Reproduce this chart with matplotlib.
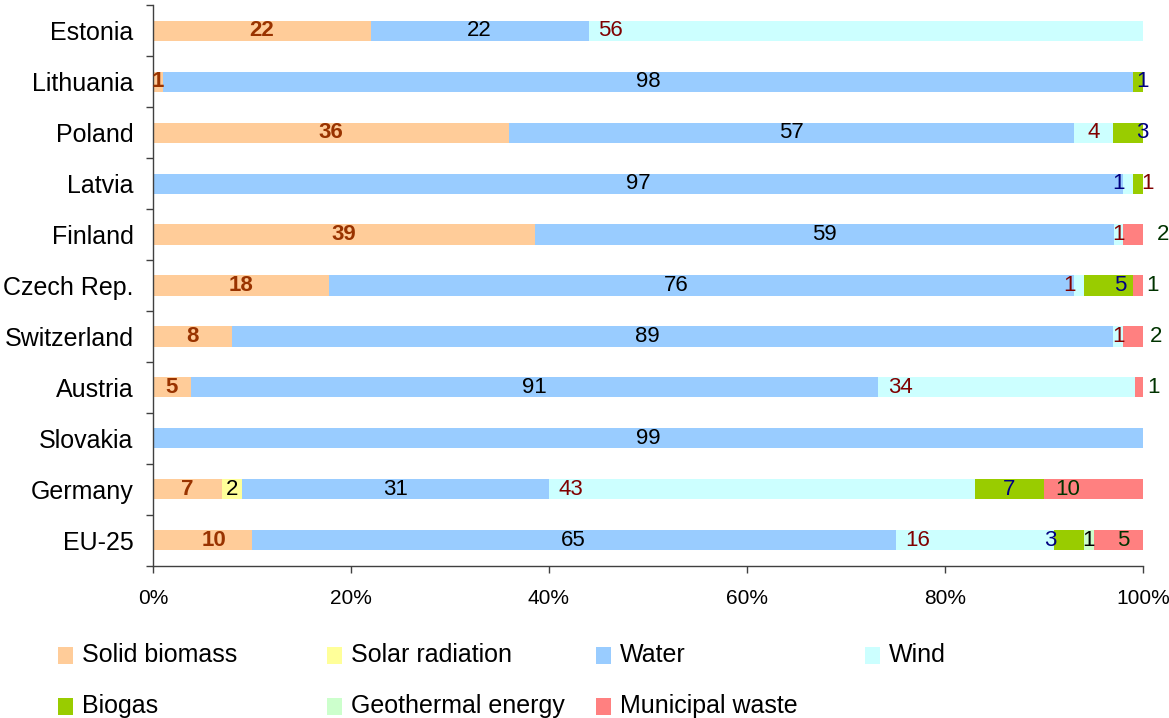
import matplotlib
matplotlib.use("Agg")
import matplotlib.pyplot as plt
from matplotlib.patches import Rectangle
import numpy as np

plt.rcParams['font.family'] = ['Liberation Sans', 'DejaVu Sans']

# Datos
paises = ['Estonia', 'Lithuania', 'Poland', 'Latvia', 'Finland', 'Czech Rep.',
          'Switzerland', 'Austria', 'Slovakia', 'Germany', 'EU-25']
fuentes = ['Solid biomass', 'Solar radiation', 'Water', 'Wind',
           'Biogas', 'Geothermal energy', 'Municipal waste']

solid_biomass = [22, 1, 36, 0, 39, 18, 8, 5, 0, 7, 10]
solar = [0, 0, 0, 0, 0, 0, 0, 0, 0, 2, 0]
water = [22, 98, 57, 97, 59, 76, 89, 91, 99, 31, 65]
wind = [56, 0, 4, 1, 1, 1, 1, 34, 0, 43, 16]
biogas = [0, 1, 3, 1, 0, 5, 0, 0, 0, 7, 3]
geothermal = [0, 0, 0, 0, 0, 0, 0, 0, 0, 0, 1]
municipal = [0, 0, 0, 0, 2, 1, 2, 1, 0, 10, 5]

series = [solid_biomass, solar, water, wind, biogas, geothermal, municipal]

colores = ['#FFCC99', '#FFFF99', '#99CCFF', '#CCFFFF', '#99CC00', '#CCFFCC', '#FF8080']
color_texto = ['#993300', 'black', 'black', '#800000', '#000080', 'black', '#003300']

# desplazamientos de etiquetas (puntos porcentuales)
ajustes = {
    ('Czech Rep.', 2): -2.6, ('Switzerland', 2): -2.6,
    ('Czech Rep.', 3): -1.0, ('Latvia', 3): 2.0,
    ('Lithuania', 4): 0.5, ('Poland', 4): 1.4, ('Latvia', 4): -2.0,
    ('Czech Rep.', 4): 1.2, ('EU-25', 4): -1.9,
    ('Finland', 6): 3.0, ('Czech Rep.', 6): 1.5, ('Switzerland', 6): 2.3,
    ('Austria', 6): 1.4, ('Germany', 6): -2.6, ('EU-25', 6): 0.5,
    ('EU-25', 0): 1.2,
}

fig = plt.figure(figsize=(11.69, 7.18), dpi=100)
ax = fig.add_axes([153/1169, 1 - 565.5/718, 990/1169, 560/718])

datos = np.array(series, dtype=float)
totales = datos.sum(axis=0)
pct = datos / totales * 100
y = np.arange(len(paises))

izq = np.zeros(len(paises))
for k in range(len(fuentes)):
    ax.barh(y, pct[k], left=izq, height=0.4, color=colores[k], linewidth=0)
    for i, p in enumerate(paises):
        if datos[k, i] == 0:
            continue
        if k == 3:
            xc = izq[i] + min(pct[k, i] / 2, 2.2)
        else:
            xc = izq[i] + pct[k, i] / 2
        xc += ajustes.get((p, k), 0)
        ax.text(xc, y[i], '%d' % datos[k, i], ha='center', va='center',
                fontsize=16, color=color_texto[k],
                fontweight='bold' if k == 0 else 'normal', clip_on=False)
    izq += pct[k]

ax.set_xlim(0, 100)
ax.set_ylim(len(paises) - 0.5, -0.5)
ax.set_xticks(np.arange(0, 101, 20))
ax.set_xticklabels(['%d%%' % v for v in range(0, 101, 20)], fontsize=15)
ax.set_yticks(y)
ax.set_yticklabels(paises, fontsize=18)
ax.set_yticks(np.arange(-0.5, len(paises)), minor=True)
ax.tick_params(axis='y', which='major', length=0, pad=14)
ax.tick_params(axis='y', which='minor', length=5, width=1, color='#404040')
ax.tick_params(axis='x', length=5, width=1, color='#404040', pad=12)

for lado in ['top', 'right']:
    ax.spines[lado].set_visible(False)
for lado in ['left', 'bottom']:
    ax.spines[lado].set_color('#404040')
    ax.spines[lado].set_linewidth(1)

# Leyenda: 4 columnas, 2 filas
col_x = [58, 327, 596, 865]
fila_y = [655, 706]
for k, nombre in enumerate(fuentes):
    px = col_x[k % 4]
    py = fila_y[k // 4]
    fig.patches.append(Rectangle((px / 1169, 1 - (py + 8.5) / 718), 15 / 1169, 17 / 718,
                                 transform=fig.transFigure, color=colores[k], linewidth=0))
    fig.text((px + 24) / 1169, 1 - py / 718, nombre, fontsize=18, va='center', ha='left')

fig.savefig('out.png', dpi=100)
